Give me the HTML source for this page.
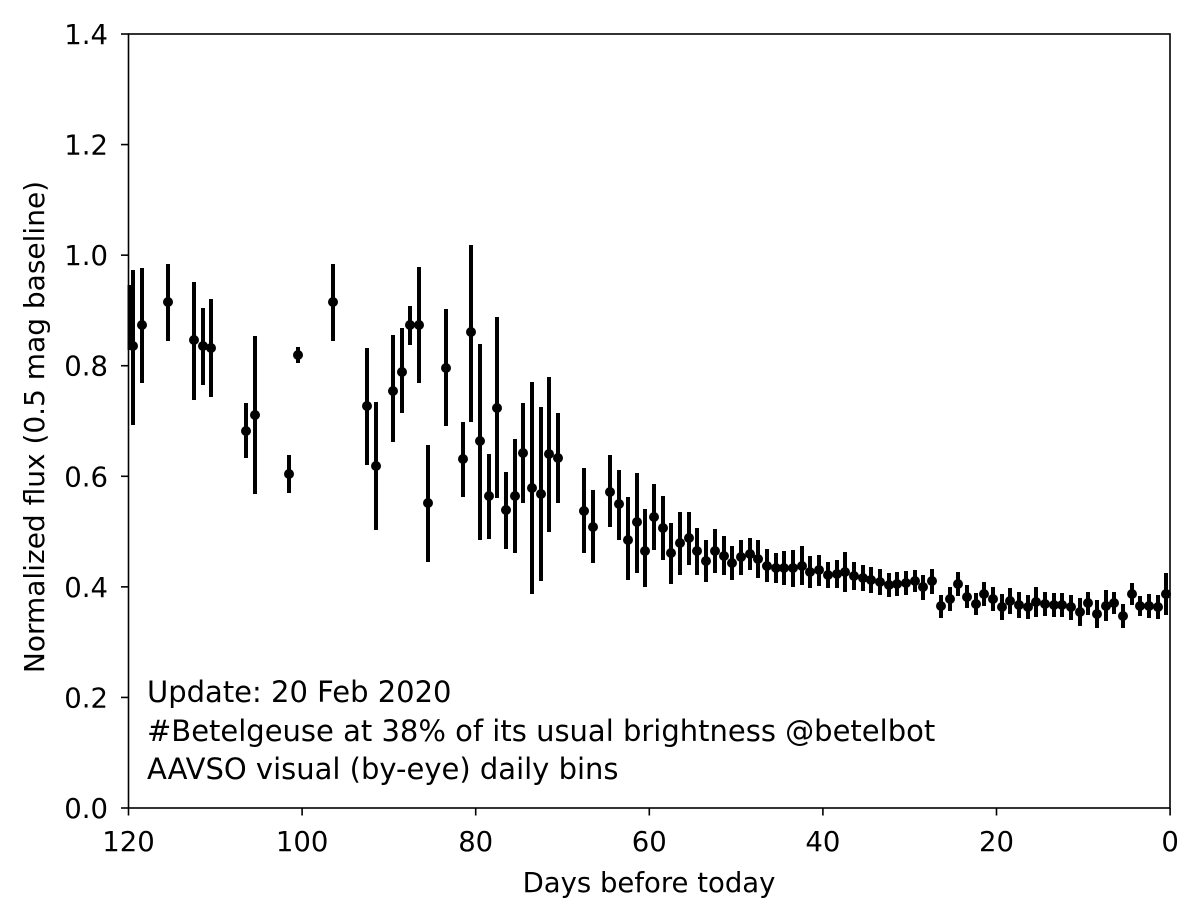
<!DOCTYPE html>
<html><head><meta charset="utf-8"><style>
html,body{margin:0;padding:0;background:#fff;}
svg{display:block;font-family:"DejaVu Sans","Liberation Sans",sans-serif;}
</style></head><body>
<svg id="s" width="1200" height="920" viewBox="0 0 1200 920" xmlns="http://www.w3.org/2000/svg">
<rect width="1200" height="920" fill="#fff"/>
<g id="d"></g>
<rect x="128.5" y="34" width="1041.5" height="774" fill="none" stroke="#000" stroke-width="1.6"/>
<g id="t" font-size="27.5" fill="#000"></g>
<text x="649" y="892" font-size="27.5" text-anchor="middle">Days before today</text>
<text transform="translate(44,427) rotate(-90)" font-size="28" text-anchor="middle">Normalized flux (0.5 mag baseline)</text>
<text x="147" y="702" font-size="29">Update: 20 Feb 2020</text>
<text x="147" y="741" font-size="29">#Betelgeuse at 38% of its usual brightness @betelbot</text>
<text x="147" y="779" font-size="29">AAVSO visual (by-eye) daily bins</text>
</svg>
<script>
var P=[[133,346,270,425],[142,325,268,383],[168,302,264,341],[194,340,282,400],[203,346,308,385],[211,348,299,397],[246,431,403,458],[255,415,336,494],[289,474,455,493],[298,355,347,363],[333,302,264,341],[367,406,348,465],[376,466,402,530],[393,391,335,442],[402,372,328,413],[410,325,306,345],[419,325,267,383],[428,503,445,562],[446,368,309,426],[463,459,422,497],[471,332,245,422],[480,441,344,540],[489,496,454,539],[497,408,317,498],[506,510,472,549],[515,496,439,553],[523,453,403,503],[532,488,382,594],[541,494,407,581],[549,454,377,532],[558,458,413,503],[584,511,468,553],[593,527,490,563],[610,492,455,527],[619,504,470,540],[628,540,497,580],[637,522,473,573],[645,551,509,587],[654,517,484,550],[663,528,496,560],[671,553,523,584],[680,543,512,575],[689,538,512,565],[697,551,528,575],[706,561,540,582],[715,551,529,573],[724,556,536,575],[732,563,546,580],[741,557,540,575],[750,554,538,570],[758,559,540,578],[767,566,549,582],[776,568,553,583],[784,568,551,585],[793,568,550,587],[802,566,546,585],[810,572,556,588],[819,570,555,586],[828,575,562,588],[837,574,560,588],[845,572,552,592],[854,576,562,590],[863,578,565,591],[871,580,567,593],[880,582,569,595],[889,585,573,597],[897,584,572,596],[906,583,571,595],[915,581,570,592],[923,587,575,600],[932,581,569,594],[941,606,595,618],[950,599,587,611],[958,584,572,596],[967,597,585,608],[976,604,593,615],[984,594,582,606],[993,599,587,611],[1002,607,594,620],[1010,601,588,614],[1019,605,592,618],[1028,607,595,619],[1036,602,587,617],[1045,604,592,616],[1054,605,593,617],[1062,605,593,617],[1071,607,595,620],[1080,612,598,626],[1088,603,592,615],[1097,614,600,628],[1106,606,590,621],[1114,603,592,614],[1123,616,604,628],[1132,594,583,605],[1140,606,596,616],[1149,606,594,618],[1158,607,595,619],[1166,594,573,615]];
var h='<line x1="129.5" y1="285" x2="129.5" y2="350" stroke="#000" stroke-width="4"/>';
P.forEach(function(p){h+='<line x1="'+p[0]+'" y1="'+p[2]+'" x2="'+p[0]+'" y2="'+p[3]+'" stroke="#000" stroke-width="4"/><circle cx="'+p[0]+'" cy="'+p[1]+'" r="5" fill="#000"/>';});
document.getElementById('d').innerHTML=h;
var t='';
for(var i=0;i<=7;i++){var v=(i*0.2).toFixed(1),y=808-i*110.57;
t+='<line x1="121" y1="'+y+'" x2="128.5" y2="'+y+'" stroke="#000" stroke-width="1.6"/><text x="108" y="'+(y+10)+'" text-anchor="end">'+v+'</text>';}
for(var j=0;j<=6;j++){var d=120-j*20,x=128.5+j*173.6;
t+='<line x1="'+x+'" y1="808" x2="'+x+'" y2="815.5" stroke="#000" stroke-width="1.6"/><text x="'+x+'" y="851" text-anchor="middle">'+d+'</text>';}
document.getElementById('t').innerHTML=t;
</script>
</body></html>
